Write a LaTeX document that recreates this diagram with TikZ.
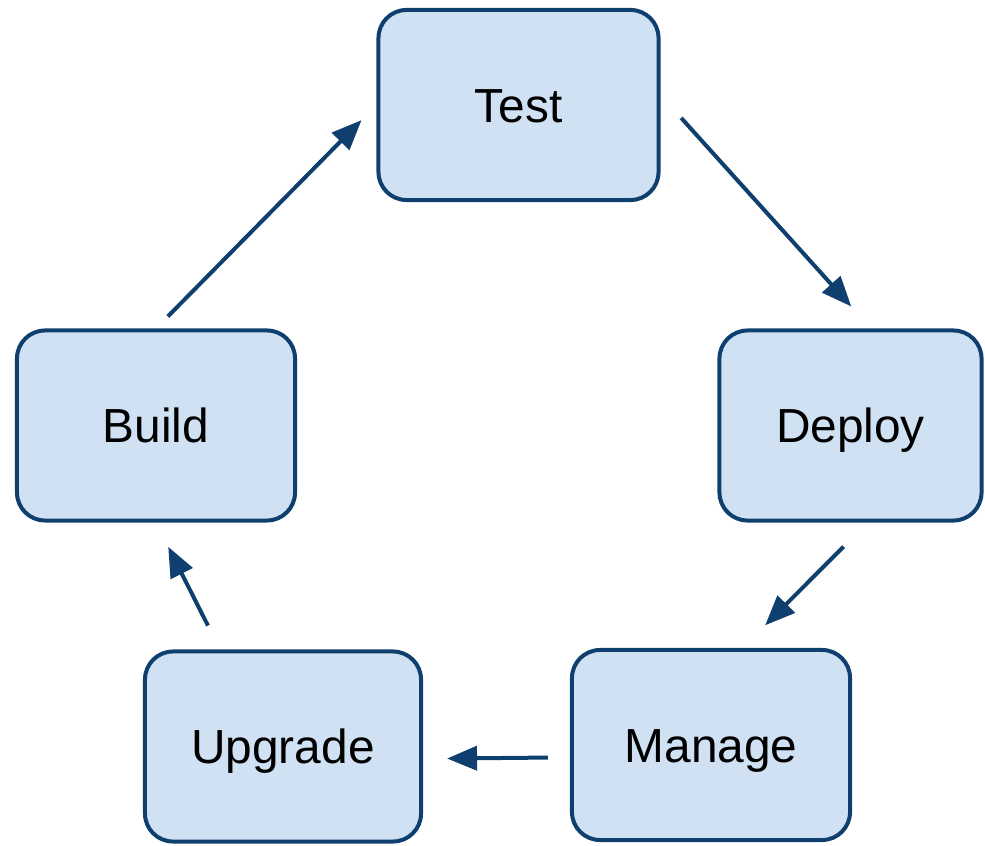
\documentclass[tikz,border=0pt]{standalone}
\usepackage{fontspec}
\setmainfont{Liberation Sans}
\usetikzlibrary{arrows.meta}
\definecolor{edgeblue}{HTML}{0F3F6E}
\definecolor{boxblue}{HTML}{CFE1F2}

\begin{document}
\begin{tikzpicture}[x=0.025cm,y=-0.025cm,
    stage/.style={draw=edgeblue,fill=boxblue,line width=0.1cm,
      rounded corners=0.7cm,minimum width=6.95cm,minimum height=4.75cm,
      inner sep=0pt,font=\fontsize{34}{40}\selectfont,
      text height=24.4pt,text depth=0pt},
    flow/.style={draw=edgeblue,line width=0.1cm,
      -{Triangle[length=0.75cm,width=0.6cm]}}]

    \useasboundingbox (0,0) rectangle (985,846);

    \node[stage,minimum width=7cm] (test) at (518.5,105) {Test};
    \node[stage] (build) at (156,425.5) {Build};
    \node[stage,minimum width=6.55cm] (deploy) at (850.5,425.5) {Deploy};
    \node[stage] (manage) at (711,745) {Manage};
    \node[stage,minimum width=6.9cm] (upgrade) at (283,746.5) {Upgrade};

    \draw (build.north) edge[flow,shorten <=0.42cm,shorten >=0.53cm] (test.west);
    \draw (test.4) edge[flow,shorten <=0.77cm,shorten >=0.74cm] (deploy.78);
    \draw (deploy.-80) edge[flow,shorten <=0.85cm,shorten >=0.8cm] (manage.72);
    \draw (manage.185) edge[flow,shorten <=0.55cm,shorten >=0.6cm] (upgrade.355.5);
    \draw (upgrade.123) edge[flow,shorten <=0.67cm,shorten >=0.68cm] (build.south);
\end{tikzpicture}
\end{document}
